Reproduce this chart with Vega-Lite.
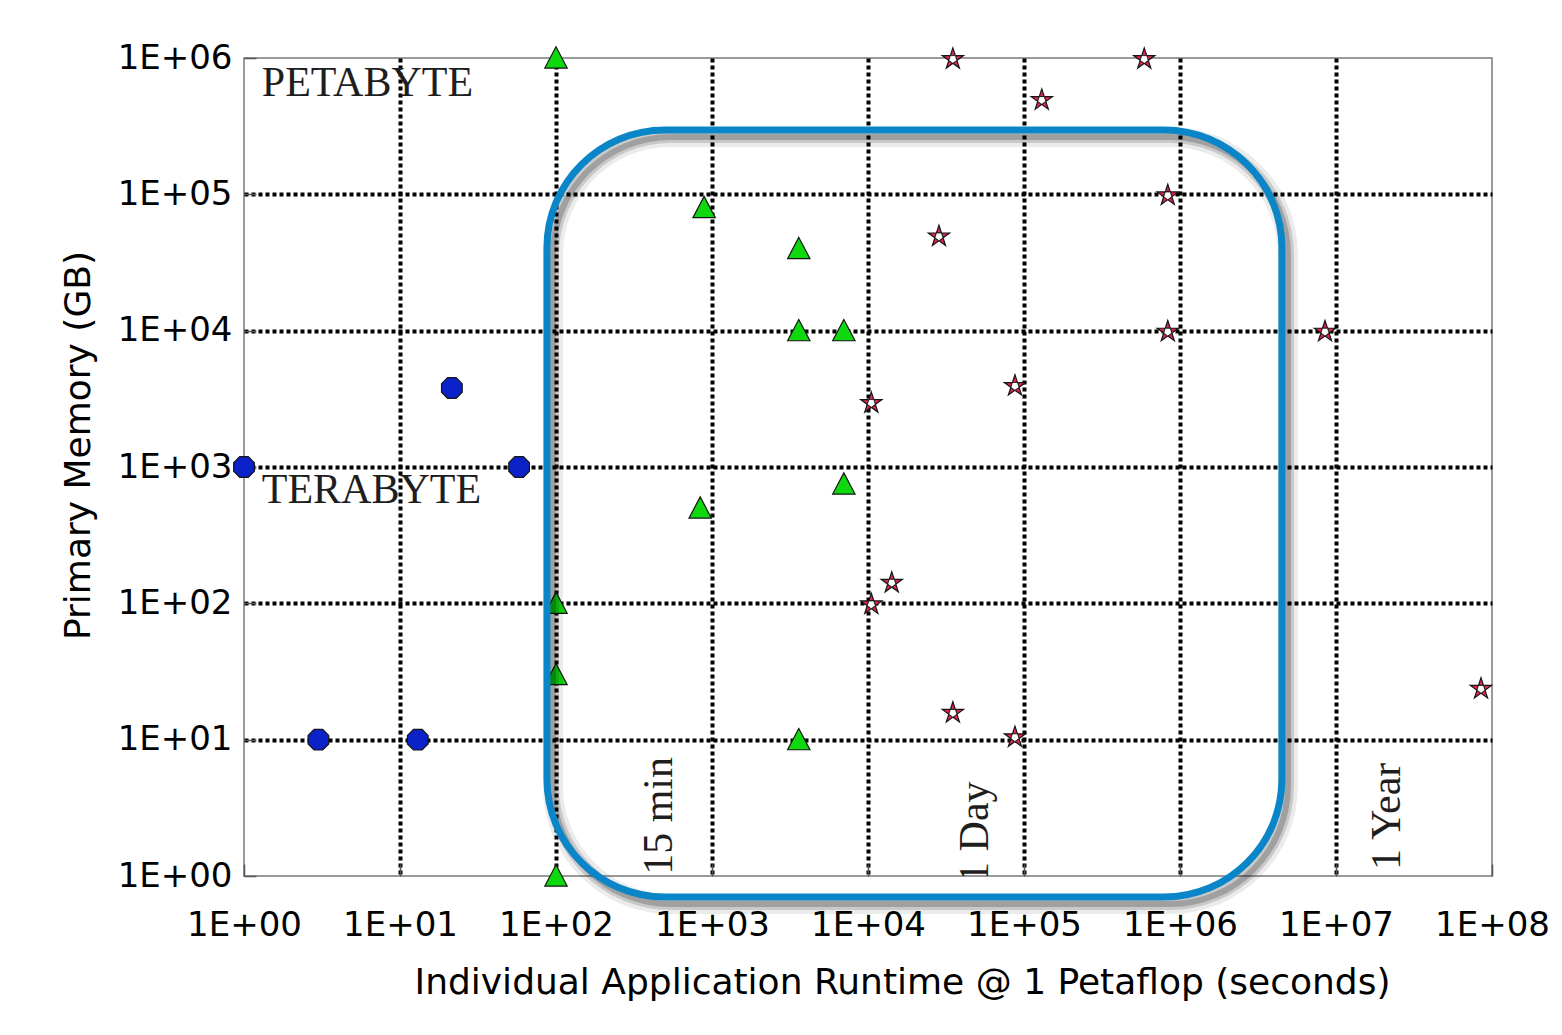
{
  "$schema": "https://vega.github.io/schema/vega-lite/v6.json",
  "autosize": {"type": "none"},
  "padding": {"left": 244, "top": 58, "right": 70, "bottom": 159},
  "width": 1248,
  "height": 818,
  "background": "white",
  "config": {
    "font": "DejaVu Sans",
    "view": {"stroke": "#7a7a7a", "strokeWidth": 1.5}
  },
  "datasets": {
    "points": [
      {"kind": "circle", "runtime": 1, "memory": 1000},
      {"kind": "circle", "runtime": 3, "memory": 10},
      {"kind": "circle", "runtime": 13, "memory": 10},
      {"kind": "circle", "runtime": 21.5, "memory": 3800},
      {"kind": "circle", "runtime": 58, "memory": 1000},
      {"kind": "triangle", "runtime": 100, "memory": 1000000},
      {"kind": "triangle", "runtime": 890, "memory": 80000},
      {"kind": "triangle", "runtime": 3600, "memory": 40000},
      {"kind": "triangle", "runtime": 3600, "memory": 10000},
      {"kind": "triangle", "runtime": 7000, "memory": 10000},
      {"kind": "triangle", "runtime": 840, "memory": 500},
      {"kind": "triangle", "runtime": 7000, "memory": 750},
      {"kind": "triangle", "runtime": 100, "memory": 100},
      {"kind": "triangle", "runtime": 100, "memory": 30},
      {"kind": "triangle", "runtime": 3600, "memory": 10},
      {"kind": "triangle", "runtime": 100, "memory": 1},
      {"kind": "star", "runtime": 35000, "memory": 1000000},
      {"kind": "star", "runtime": 590000, "memory": 1000000},
      {"kind": "star", "runtime": 130000, "memory": 500000},
      {"kind": "star", "runtime": 835000, "memory": 100000},
      {"kind": "star", "runtime": 28500, "memory": 50000},
      {"kind": "star", "runtime": 835000, "memory": 10000},
      {"kind": "star", "runtime": 8500000, "memory": 10000},
      {"kind": "star", "runtime": 87500, "memory": 4000},
      {"kind": "star", "runtime": 10500, "memory": 3000},
      {"kind": "star", "runtime": 14200, "memory": 144},
      {"kind": "star", "runtime": 10500, "memory": 100},
      {"kind": "star", "runtime": 35000, "memory": 16},
      {"kind": "star", "runtime": 87500, "memory": 10.6},
      {"kind": "star", "runtime": 85000000, "memory": 24}
    ],
    "box": [
      {"x1": 87.5, "x2": 4500000, "y1": 297000, "y2": 0.7}
    ],
    "labels": [
      {"label": "PETABYTE", "runtime": 1.3, "memory": 528000},
      {"label": "TERABYTE", "runtime": 1.3, "memory": 545}
    ],
    "vlabels": [
      {"label": "15 min", "runtime": 554, "memory": 1.02},
      {"label": "1 Day", "runtime": 58800, "memory": 0.89},
      {"label": "1 Year", "runtime": 25700000, "memory": 1.107}
    ]
  },
  "layer": [
    {
      "data": {"name": "points"},
      "mark": {"type": "point", "filled": true, "opacity": 1, "size": 500, "stroke": "#151515", "strokeWidth": 1.2},
      "encoding": {
        "x": {
          "field": "runtime", "type": "quantitative",
          "scale": {"type": "log", "domain": [1, 100000000], "nice": false},
          "axis": {
            "values": [1, 10, 100, 1000, 10000, 100000, 1000000, 10000000, 100000000],
            "labelExpr": "'1E+0' + round(log(datum.value)/LN10)",
            "labelFont": "DejaVu Sans", "labelFontSize": 34, "labelColor": "#000",
            "labelAngle": 0, "labelFlush": false, "labelOverlap": false, "labelBound": false,
            "labelPadding": 44,
            "domain": false,
            "ticks": true, "tickSize": -12, "tickColor": "#555", "tickWidth": 1.5,
            "grid": true, "gridColor": "#000", "gridWidth": 4, "gridDash": [4, 3],
            "gridOpacity": {"condition": {"test": "datum.value <= 1 || datum.value >= 100000000", "value": 0}, "value": 1},
            "title": "Individual Application Runtime @ 1 Petaflop (seconds)",
            "titleFont": "DejaVu Sans", "titleFontSize": 36, "titleFontWeight": "normal", "titleColor": "#000",
            "titleX": 658, "titleY": 117, "titleBaseline": "alphabetic", "titleAlign": "center"
          }
        },
        "y": {
          "field": "memory", "type": "quantitative",
          "scale": {"type": "log", "domain": [1, 1000000], "nice": false},
          "axis": {
            "values": [1, 10, 100, 1000, 10000, 100000, 1000000],
            "labelExpr": "'1E+0' + round(log(datum.value)/LN10)",
            "labelFont": "DejaVu Sans", "labelFontSize": 34, "labelColor": "#000",
            "labelOverlap": false, "labelBound": false, "labelFlush": false,
            "labelPadding": 24,
            "domain": false,
            "ticks": true, "tickSize": -12, "tickColor": "#555", "tickWidth": 1.5,
            "grid": true, "gridColor": "#000", "gridWidth": 4, "gridDash": [4, 3],
            "gridOpacity": {"condition": {"test": "datum.value <= 1 || datum.value >= 1000000", "value": 0}, "value": 1},
            "title": "Primary Memory (GB)",
            "titleFont": "DejaVu Sans", "titleFontSize": 36, "titleFontWeight": "normal", "titleColor": "#000",
            "titleAngle": 270, "titleX": -155, "titleY": 387, "titleBaseline": "alphabetic", "titleAlign": "center"
          }
        },
        "shape": {
          "field": "kind", "type": "nominal", "legend": null,
          "scale": {
            "domain": ["circle", "triangle", "star"],
            "range": [
              "M-0.383,-0.924L0.383,-0.924L0.924,-0.383L0.924,0.383L0.383,0.924L-0.383,0.924L-0.924,0.383L-0.924,-0.383Z",
              "M0,-1L1,0.9L-1,0.9Z",
              "M0,-0.905L0.588,0.904L-0.951,-0.214L0.951,-0.214L-0.588,0.904Z"
            ]
          }
        },
        "fill": {
          "field": "kind", "type": "nominal", "legend": null,
          "scale": {"domain": ["circle", "triangle", "star"], "range": ["#0a22c8", "#0fd80f", "#e3264f"]}
        }
      }
    },
    {
      "data": {"name": "points"},
      "transform": [{"filter": "datum.kind === 'star'"}],
      "mark": {"type": "point", "filled": true, "fill": "#ffffff", "opacity": 1, "size": 500, "stroke": "#151515", "strokeWidth": 0.8,
        "shape": "M0,0.477L-0.363,0.213L-0.225,-0.214L0.225,-0.214L0.363,0.213Z"},
      "encoding": {
        "x": {"field": "runtime", "type": "quantitative"},
        "y": {"field": "memory", "type": "quantitative"}
      }
    },
    {
      "data": {"name": "box"},
      "mark": {"type": "rect", "filled": false, "color": "#000000", "strokeWidth": 20, "strokeOpacity": 0.08, "cornerRadius": 118,
        "xOffset": 6, "x2Offset": 6, "yOffset": 7, "y2Offset": 7},
      "encoding": {
        "x": {"field": "x1", "type": "quantitative"},
        "x2": {"field": "x2"},
        "y": {"field": "y1", "type": "quantitative"},
        "y2": {"field": "y2"}
      }
    },
    {
      "data": {"name": "box"},
      "mark": {"type": "rect", "filled": false, "color": "#000000", "strokeWidth": 12, "strokeOpacity": 0.14, "cornerRadius": 118,
        "xOffset": 6, "x2Offset": 6, "yOffset": 7, "y2Offset": 7},
      "encoding": {
        "x": {"field": "x1", "type": "quantitative"},
        "x2": {"field": "x2"},
        "y": {"field": "y1", "type": "quantitative"},
        "y2": {"field": "y2"}
      }
    },
    {
      "data": {"name": "box"},
      "mark": {"type": "rect", "filled": false, "color": "#000000", "strokeWidth": 6, "strokeOpacity": 0.2, "cornerRadius": 118,
        "xOffset": 6, "x2Offset": 6, "yOffset": 7, "y2Offset": 7},
      "encoding": {
        "x": {"field": "x1", "type": "quantitative"},
        "x2": {"field": "x2"},
        "y": {"field": "y1", "type": "quantitative"},
        "y2": {"field": "y2"}
      }
    },
    {
      "data": {"name": "box"},
      "mark": {"type": "rect", "filled": false, "color": "#0a86c8", "strokeWidth": 7, "strokeOpacity": 1, "cornerRadius": 118},
      "encoding": {
        "x": {"field": "x1", "type": "quantitative"},
        "x2": {"field": "x2"},
        "y": {"field": "y1", "type": "quantitative"},
        "y2": {"field": "y2"}
      }
    },
    {
      "data": {"name": "labels"},
      "mark": {"type": "text", "font": "Liberation Serif", "fontSize": 42, "color": "#1e1e1e", "align": "left", "baseline": "alphabetic"},
      "encoding": {
        "x": {"field": "runtime", "type": "quantitative"},
        "y": {"field": "memory", "type": "quantitative"},
        "text": {"field": "label"}
      }
    },
    {
      "data": {"name": "vlabels"},
      "mark": {"type": "text", "font": "Liberation Serif", "fontSize": 42, "color": "#1e1e1e", "align": "left", "baseline": "alphabetic", "angle": 270, "clip": true},
      "encoding": {
        "x": {"field": "runtime", "type": "quantitative"},
        "y": {"field": "memory", "type": "quantitative"},
        "text": {"field": "label"}
      }
    }
  ]
}
